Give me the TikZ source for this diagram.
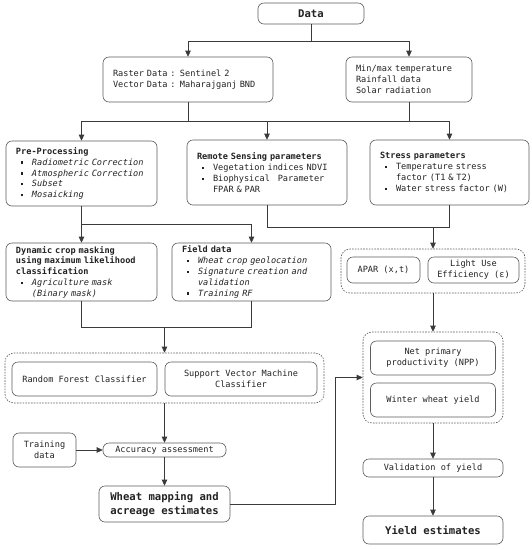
\documentclass[tikz,border=0pt]{standalone}
\usepackage{fontspec}
\setmainfont{DejaVu Sans Mono}
\usetikzlibrary{arrows.meta}
\definecolor{ln}{HTML}{3A3A3A}
\definecolor{bx}{HTML}{5C5C5C}
\definecolor{tx}{HTML}{222222}
\newcommand\bulit{\makebox[16pt][l]{\hspace{5pt}\rule[0.3ex]{2.4pt}{2.4pt}}}
\newcommand\contl{\hspace*{16pt}}
\begin{document}
\begin{tikzpicture}[x=1pt,y=-1pt,
  box/.style={draw=bx, line width=0.6pt, rounded corners=6pt, text=tx,
    font=\fontsize{8.6}{10.8}\selectfont, inner sep=0pt},
  cbox/.style={box, align=center},
  lbox/.style={box, align=left, inner xsep=10pt},
  grp/.style={draw=bx, line width=0.6pt, dash pattern=on 1.6pt off 1.2pt, rounded corners=9pt, inner sep=0pt},
  ln/.style={draw=ln, line width=0.7pt},
  arr/.style={ln, -{Triangle[length=6pt,width=5.5pt]}},
  big/.style={font=\fontsize{10.6}{14}\selectfont\bfseries}]
\useasboundingbox (0,0) rectangle (532,550);

% row 1
\node[cbox, big, minimum width=106, minimum height=21] (data) at (311,13.5) {Data};
% row 2
\node[lbox, text width=150, minimum height=45] (raster) at (188,79.5)
  {Raster Data : Sentinel 2\\Vector Data : Maharajganj BND};
\node[lbox, text width=106, minimum height=45] (minmax) at (409,79.5)
  {Min/max temperature\\Rainfall data\\Solar radiation};
% row 3
\node[lbox, text width=131, minimum height=65] (pre) at (81.5,173.5)
  {\textbf{Pre-Processing}\\
   \bulit\textit{Radiometric Correction}\\
   \bulit\textit{Atmospheric Correction}\\
   \bulit\textit{Subset}\\
   \bulit\textit{Mosaicking}};
\node[lbox, text width=140, minimum height=65] (rs) at (267,172.5)
  {\textbf{Remote Sensing parameters}\\
   \bulit Vegetation indices NDVI\\
   \bulit Biophysical\hspace{5pt} Parameter\\
   \contl FPAR \& PAR\\[3pt]};
\node[lbox, text width=139, minimum height=65] (stress) at (449.5,172.5)
  {\textbf{Stress parameters}\\
   \bulit Temperature stress\\
   \contl factor (T1 \& T2)\\
   \bulit Water stress factor (W)\\[3pt]};
% row 4
\node[lbox, text width=131, minimum height=58] (dyn) at (81.5,272)
  {\textbf{Dynamic crop masking}\\
   \textbf{using maximum likelihood}\\
   \textbf{classification}\\
   \bulit\textit{Agriculture mask}\\
   \contl\textit{(Binary mask)}};
\node[lbox, text width=139, minimum height=58] (field) at (251.5,272)
  {\textbf{Field data}\\
   \bulit\textit{Wheat crop geolocation}\\
   \bulit\textit{Signature creation and}\\
   \contl\textit{validation}\\
   \bulit\textit{Training RF}};
% right column groups
\node[grp, minimum width=184, minimum height=44] (g1) at (433,271) {};
\node[cbox, minimum width=73, minimum height=26] (apar) at (383.5,270) {APAR (x,t)};
\node[cbox, minimum width=91, minimum height=26] (lue) at (473.5,270) {Light Use\\Efficiency (ε)};
\node[grp, minimum width=140, minimum height=91] (g2) at (433,377.5) {};
\node[cbox, minimum width=125, minimum height=34] (npp) at (433,358) {Net primary\\productivity (NPP)};
\node[cbox, minimum width=125, minimum height=34] (ww) at (433,400) {Winter wheat yield};
\node[cbox, minimum width=140, minimum height=18] (val) at (433,468) {Validation of yield};
\node[cbox, big, minimum width=140, minimum height=28] (yield) at (433,530) {Yield estimates};
% left column
\node[grp, minimum width=319, minimum height=50] (g3) at (164.5,378) {};
\node[cbox, minimum width=145, minimum height=34] (rf) at (84.5,379) {Random Forest Classifier};
\node[cbox, minimum width=152, minimum height=34] (svm) at (241,379) {Support Vector Machine\\Classifier};
\node[cbox, minimum width=63, minimum height=34] (train) at (44.5,450) {Training\\data};
\node[cbox, minimum width=123, minimum height=14] (acc) at (164.5,450) {Accuracy assessment};
\node[cbox, big, minimum width=131, minimum height=36] (wheat) at (164.5,504) {Wheat mapping and\\acreage estimates};

% helper levels
\coordinate (h1) at (0,41);
\coordinate (h2) at (0,121);
\coordinate (h3) at (0,224);
\coordinate (h4) at (0,227);
\coordinate (h5) at (0,327);
\coordinate (v1) at (335,0);

% connectors
\draw[ln] (data.south) -- (data.south |- h1);
\draw[arr] (data.south |- h1) -| (raster.north);
\draw[arr] (data.south |- h1) -| (minmax.north);

\draw[ln] (raster.south) -- (raster.south |- h2);
\draw[ln] (minmax.south) -- (minmax.south |- h2);
\draw[ln] (pre.north |- h2) -- (stress.north |- h2);
\draw[arr] (pre.north |- h2) -- (pre.north);
\draw[arr] (rs.north |- h2) -- (rs.north);
\draw[arr] (stress.north |- h2) -- (stress.north);

\draw[ln] (pre.south) -- (pre.south |- h3) -- (field.north |- h3);
\draw[arr] (pre.south |- h3) -- (dyn.north);
\draw[arr] (field.north |- h3) -- (field.north);

\draw[ln] (rs.south) -- (rs.south |- h4) -- (stress.south |- h4) -- (stress.south);
\draw[arr] (g1.north |- h4) -- (g1.north);

\draw[ln] (dyn.south) -- (dyn.south |- h5) -- (field.south |- h5) -- (field.south);
\draw[arr] (g3.north |- h5) -- (g3.north);

\draw[arr] (g1.south) -- (g2.north);
\draw[arr] (g3.south) -- (acc.north);
\draw[arr] (train.east) -- (acc.west);
\draw[arr] (acc.south) -- (wheat.north);
\draw[arr] (wheat.east) -- (wheat.east -| v1) -- (v1 |- g2.west) -- (g2.west);
\draw[arr] (g2.south) -- (val.north);
\draw[arr] (val.south) -- (yield.north);
\end{tikzpicture}
\end{document}
